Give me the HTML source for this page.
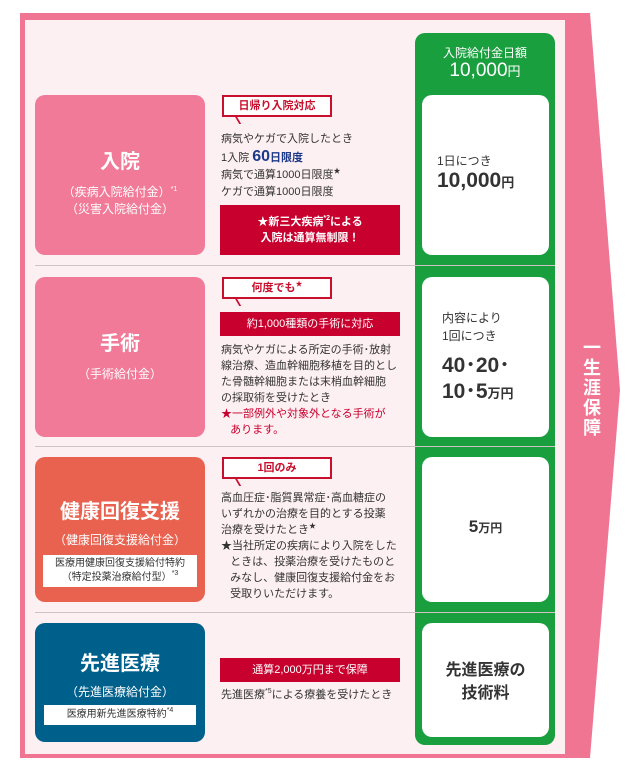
<!DOCTYPE html>
<html><head><meta charset="utf-8"><style>
*{margin:0;padding:0;box-sizing:border-box}
body{width:640px;height:778px;background:#fff;position:relative;font-family:"Liberation Sans","Noto Sans CJK JP",sans-serif;color:#333;overflow:hidden}
.a{position:absolute}
.lb{position:absolute;left:35px;width:170px;border-radius:10px;color:#fff;text-align:center}
.lb h2{font-size:20px;font-weight:bold}
.lb p{font-size:12px;line-height:17px}
.wb{position:absolute;left:222px;width:110px;background:#fff;border:2px solid #c8102e;color:#c8102e;font-weight:bold;font-size:11px;text-align:center;height:22px;line-height:18px}
.wb:after{content:"";position:absolute;left:10px;bottom:-9px;border-left:2px solid #c8102e;width:0;height:9px;transform:skewX(30deg);transform-origin:top}
.rb{position:absolute;left:220px;width:180px;background:#c8002e;color:#fff;font-size:11px;text-align:center;font-weight:bold}
.tx{position:absolute;left:221px;font-size:11px;line-height:16px;color:#333}
.wh{position:absolute;left:422px;width:127px;background:#fff;border-radius:10px}
.sep{position:absolute;left:35px;width:520px;height:1px;background:#cfc3c6}
sup{font-size:7px;line-height:0;vertical-align:5px}
</style></head><body>
<svg class="a" style="left:0;top:0" width="640" height="778"><polygon points="20,13 590,13 620,390 590,758 20,758" fill="#f07592"/><rect x="25" y="20" width="540" height="734" fill="#fdf0f3"/><rect x="415" y="33" width="140" height="712" rx="10" fill="#1a9f3f"/></svg>
<div class="a" style="left:581px;top:338px;width:22px;color:#fff;font-weight:bold;font-size:18px;line-height:20px;text-align:center">一<br>生<br>涯<br>保<br>障</div>
<div class="sep" style="top:265px"></div><div class="sep" style="top:446px"></div><div class="sep" style="top:612px"></div>
<div class="a" style="left:415px;top:44px;width:140px;text-align:center;color:#fff;font-size:12px">入院給付金日額</div>
<div class="a" style="left:415px;top:60px;width:140px;text-align:center;color:#fff;font-size:19px">10,000<span style="font-size:13px">円</span></div>

<div class="lb" style="top:95px;height:160px;background:#f07a97"><h2 style="margin-top:50px">入院</h2><p style="margin-top:10px">（疾病入院給付金）<sup>*1</sup><br>（災害入院給付金）</p></div>
<div class="lb" style="top:277px;height:160px;background:#f07a97"><h2 style="margin-top:50px">手術</h2><p style="margin-top:10px">（手術給付金）</p></div>
<div class="lb" style="top:457px;height:145px;background:#e9614f"><h2 style="margin-top:38px">健康回復支援</h2><p style="margin-top:8px">（健康回復支援給付金）</p><div style="background:#fff;color:#333;font-size:10px;line-height:14px;margin:6px 8px 0;padding:2px 0">医療用健康回復支援給付特約<br>（特定投薬治療給付型）<sup>*3</sup></div></div>
<div class="lb" style="top:623px;height:119px;background:#00608c"><h2 style="margin-top:24px">先進医療</h2><p style="margin-top:8px">（先進医療給付金）</p><div style="background:#fff;color:#333;font-size:10px;line-height:14px;margin:4px 9px 0;padding:3px 0">医療用新先進医療特約<sup>*4</sup></div></div>

<div class="wb" style="top:95px">日帰り入院対応</div>
<div class="tx" style="top:131px;line-height:17px">病気やケガで入院したとき<br>1入院 <b style="color:#1d3a8a;font-size:16px">60</b><b style="color:#1d3a8a">日限度</b><br>病気で通算1000日限度<sup>★</sup><br>ケガで通算1000日限度</div>
<div class="rb" style="top:205px;height:50px;padding-top:9px;line-height:16px">★新三大疾病<sup>*2</sup>による<br>入院は通算無制限！</div>

<div class="wb" style="top:277px">何度でも<sup>★</sup></div>
<div class="rb" style="top:312px;height:24px;line-height:24px;font-weight:normal">約1,000種類の手術に対応</div>
<div class="tx" style="top:342px">病気やケガによる所定の手術･放射<br>線治療、造血幹細胞移植を目的とし<br>た骨髄幹細胞または末梢血幹細胞<br>の採取術を受けたとき<br><span style="color:#c8002e">★一部例外や対象外となる手術が<br>&nbsp;&nbsp;&nbsp;あります。</span></div>

<div class="wb" style="top:457px">1回のみ</div>
<div class="tx" style="top:490px">高血圧症･脂質異常症･高血糖症の<br>いずれかの治療を目的とする投薬<br>治療を受けたとき<sup>★</sup><br>★当社所定の疾病により入院をした<br>&nbsp;&nbsp;&nbsp;ときは、投薬治療を受けたものと<br>&nbsp;&nbsp;&nbsp;みなし、健康回復支援給付金をお<br>&nbsp;&nbsp;&nbsp;受取りいただけます。</div>

<div class="rb" style="top:658px;height:24px;line-height:24px;font-weight:normal">通算2,000万円まで保障</div>
<div class="tx" style="top:687px">先進医療<sup>*5</sup>による療養を受けたとき</div>

<div class="wh" style="top:95px;height:160px"><div style="margin:57px 0 0 15px;font-size:12px">1日につき</div><div style="margin-left:15px;font-size:21px;font-weight:bold">10,000<span style="font-size:13px">円</span></div></div>
<div class="wh" style="top:277px;height:160px"><div style="margin:32px 0 0 20px;font-size:12px;line-height:18px">内容により<br>1回につき</div><div style="margin:8px 0 0 20px;font-size:21px;font-weight:bold;line-height:26px">40･20･<br>10･5<span style="font-size:13px">万円</span></div></div>
<div class="wh" style="top:457px;height:145px;text-align:center"><div style="margin-top:60px;font-size:17px;font-weight:bold">5<span style="font-size:12px">万円</span></div></div>
<div class="wh" style="top:623px;height:114px;text-align:center"><div style="margin-top:36px;font-size:16px;font-weight:bold;line-height:23px">先進医療の<br>技術料</div></div>
</body></html>
